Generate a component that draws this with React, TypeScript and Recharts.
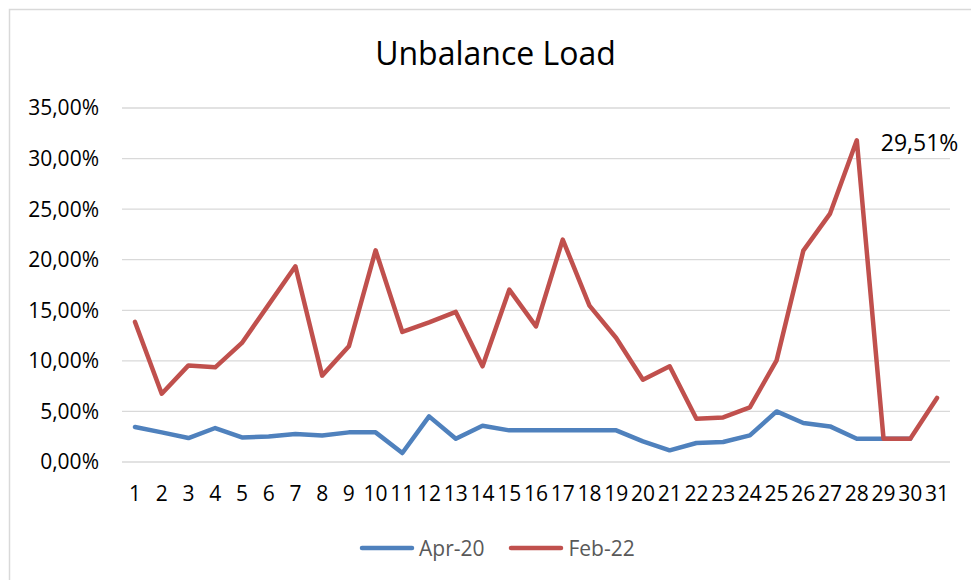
import { CartesianGrid, Legend, Line, LineChart, XAxis, YAxis } from "recharts";

const days = [
  1, 2, 3, 4, 5, 6, 7, 8, 9, 10, 11, 12, 13, 14, 15, 16, 17, 18, 19, 20, 21, 22, 23, 24, 25, 26, 27, 28, 29, 30, 31,
];

// Apr-20 (April has 30 days)
const apr20 = [
  3.46, 2.93, 2.37, 3.36, 2.43, 2.53, 2.77, 2.63, 2.93, 2.93, 0.89, 4.51, 2.3, 3.59, 3.13, 3.13, 3.13, 3.13, 3.13,
  2.04, 1.15, 1.88, 1.98, 2.63, 5.0, 3.86, 3.52, 2.3, 2.3, 2.3, null,
];

const feb22 = [
  13.85, 6.75, 9.55, 9.36, 11.77, 15.56, 19.35, 8.54, 11.44, 20.93, 12.86, 13.81, 14.84, 9.46, 17.04, 13.41, 21.99,
  15.46, 12.26, 8.14, 9.46, 4.28, 4.41, 5.4, 10.05, 20.9, 24.56, 31.81, 2.3, 2.3, 6.33,
];

const yTicks = [0, 0.05, 0.1, 0.15, 0.2, 0.25, 0.3, 0.35];
const peakLabel = "29,51%";
const peakIndex = 27;

const BLUE = "#4F81BD";
const RED = "#C0504D";
const FONT = "'Open Sans', sans-serif";

const data = days.map((d, i) => ({
  day: d,
  "Apr-20": apr20[i] == null ? null : (apr20[i] as number) / 100,
  "Feb-22": feb22[i] / 100,
}));

const fmtPct = (v: number) => (v * 100).toFixed(2).replace(".", ",") + "%";

function LegendContent() {
  const items = [
    { name: "Apr-20", color: BLUE },
    { name: "Feb-22", color: RED },
  ];
  return (
    <div style={{ display: "flex", alignItems: "center", fontFamily: FONT, fontSize: 21, color: "#595959" }}>
      {items.map((it, i) => (
        <div key={it.name} style={{ display: "flex", alignItems: "center", marginLeft: i ? 24 : 0 }}>
          <svg width={56} height={10} style={{ marginRight: 4 }}>
            <line x1={3} y1={5} x2={53} y2={5} stroke={it.color} strokeWidth={4.5} strokeLinecap="round" />
          </svg>
          <span>{it.name}</span>
        </div>
      ))}
    </div>
  );
}

export default function App() {
  return (
    <div style={{ position: "absolute", left: 0, top: 0, width: 971, height: 580, background: "#fff" }}>
      <svg width={971} height={580} style={{ position: "absolute", left: 0, top: 0 }}>
        <rect x={9.5} y={9.5} width={980} height={600} fill="#fff" stroke="#d9d9d9" strokeWidth={1.5} />
        <text x={495.5} y={65} textAnchor="middle" fontFamily={FONT} fontSize={32} fill="#000">
          Unbalance Load
        </text>
      </svg>
      <div style={{ position: "absolute", left: 0, top: 0 }}>
        <LineChart width={971} height={580} data={data} margin={{ top: 108, right: 21, left: 22, bottom: 78 }}>
          <CartesianGrid horizontal vertical={false} stroke="#d9d9d9" strokeWidth={1.3} />
          <XAxis
            dataKey="day"
            height={40}
            axisLine={false}
            tickLine={false}
            tickSize={0}
            tickMargin={24}
            interval={0}
            padding={{ left: 13, right: 13 }}
            tick={{ fontFamily: FONT, fontSize: 21, fill: "#000" }}
          />
          <YAxis
            width={100}
            domain={[0, 0.35]}
            ticks={yTicks}
            tickFormatter={fmtPct}
            axisLine={false}
            tickLine={false}
            tickSize={0}
            tickMargin={23}
            tick={{ fontFamily: FONT, fontSize: 21, fill: "#000" }}
          />
          <Legend
            layout="horizontal"
            verticalAlign="middle"
            align="center"
            content={<LegendContent />}
            wrapperStyle={{ position: "absolute", left: 359, top: 534, width: "auto" }}
          />
          <Line
            dataKey="Apr-20"
            stroke={BLUE}
            strokeWidth={4.5}
            strokeLinejoin="round"
            strokeLinecap="round"
            dot={false}
            isAnimationActive={false}
          />
          <Line
            dataKey="Feb-22"
            stroke={RED}
            strokeWidth={4.5}
            strokeLinejoin="round"
            strokeLinecap="round"
            dot={false}
            isAnimationActive={false}
            label={(p: any) =>
              p.index === peakIndex ? (
                <text key="peak" x={p.x + 24} y={p.y + 11} fontFamily={FONT} fontSize={23} fill="#000">
                  {peakLabel}
                </text>
              ) : (
                <g key={`l${p.index}`} />
              )
            }
          />
        </LineChart>
      </div>
    </div>
  );
}
